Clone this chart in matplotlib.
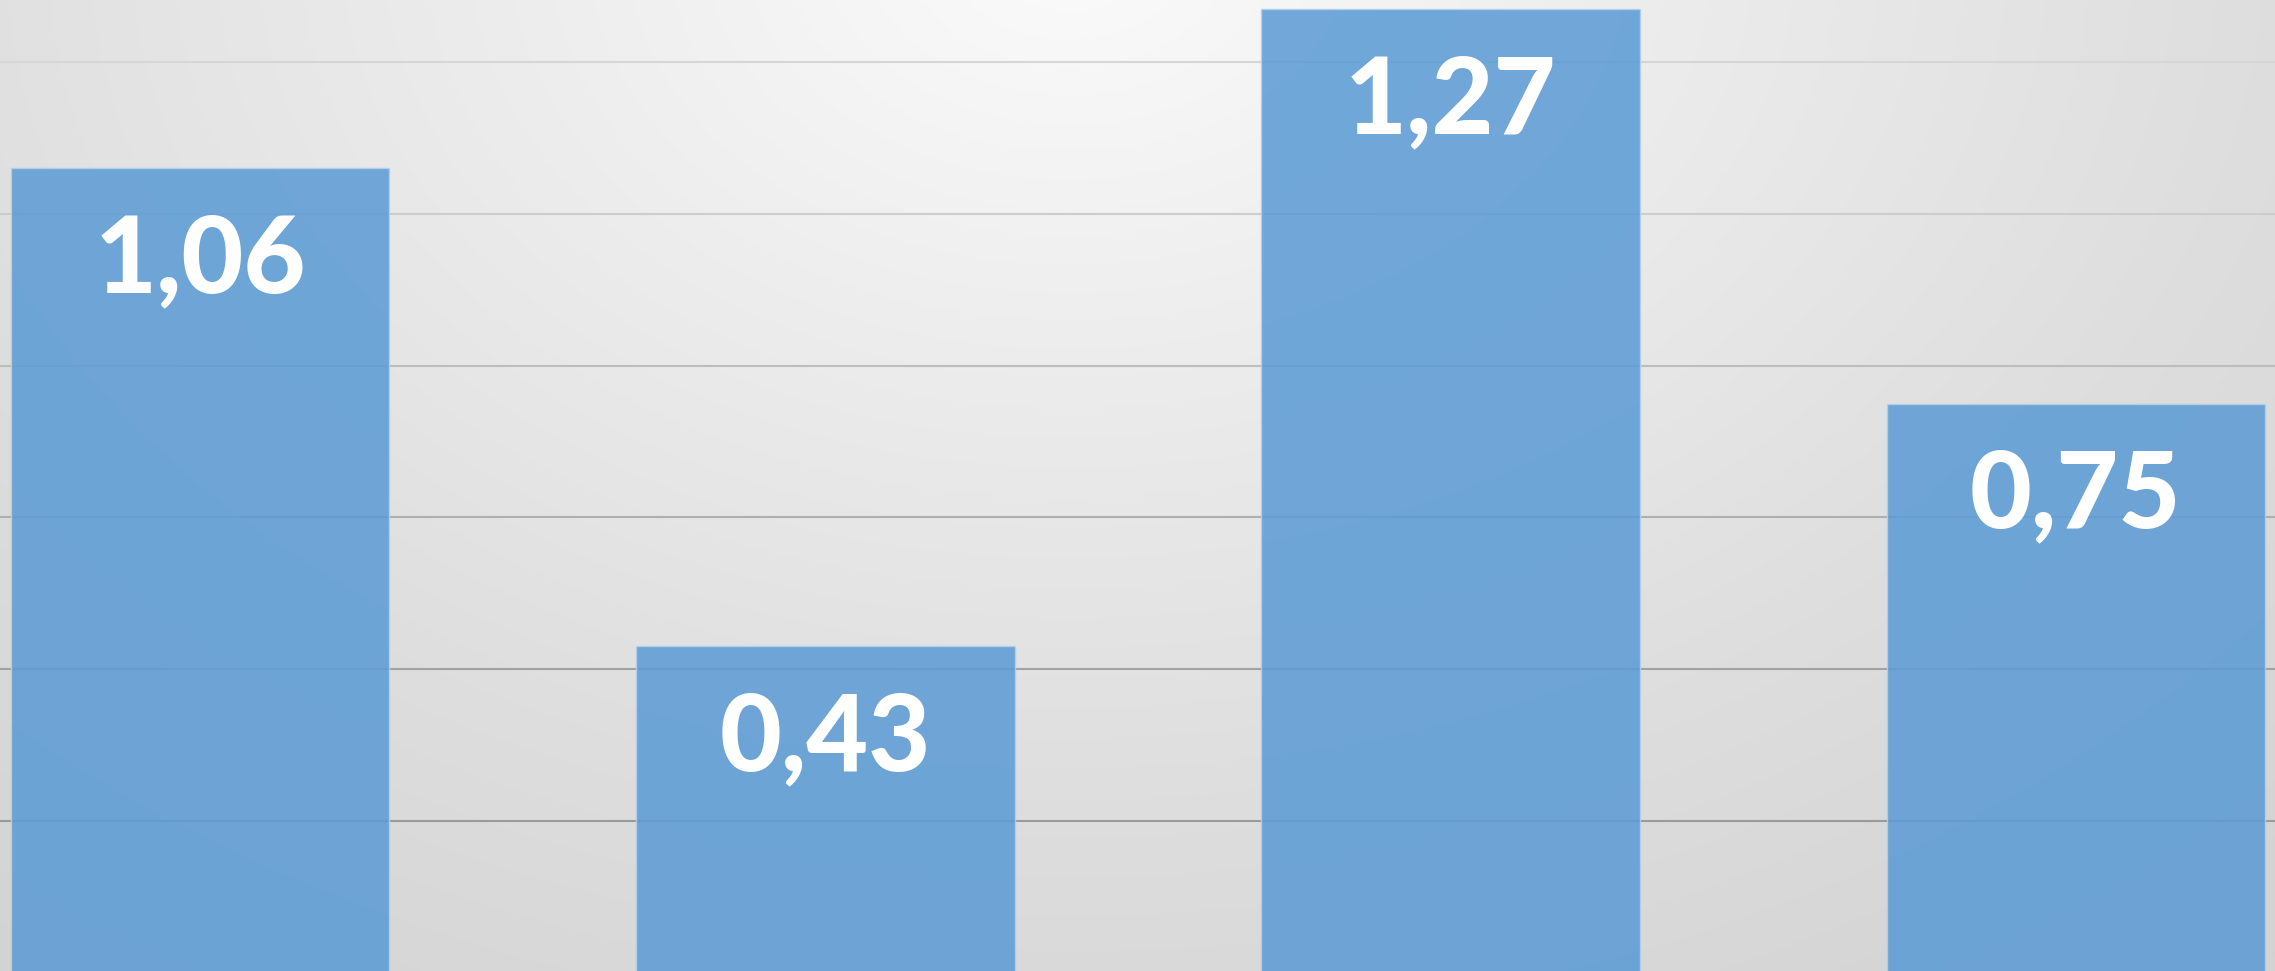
import numpy as np
import matplotlib
matplotlib.use('Agg')
import matplotlib.pyplot as plt
from matplotlib.colors import LinearSegmentedColormap

##### Data #####
categories = ['A', 'B', 'C', 'D']
values = [1.06, 0.43, 1.27, 0.75]
grid_values = [0.2, 0.4, 0.6, 0.8, 1.0, 1.2]


def fmt_comma(v):
    '''
    Formats a number with a decimal comma
    '''
    return '{:.2f}'.format(v).replace('.', ',')


##### Figure #####
fig = plt.figure(figsize=(22.75, 9.71), dpi=100)
ax = fig.add_axes([0, 0, 1, 1])
x_lo, x_hi = -0.3205, 3.319
y_lo, y_hi = 0.002, 1.282
ax.set_xlim(x_lo, x_hi)
ax.set_ylim(y_lo, y_hi)

# radial background gradient, light at top centre
ny, nx = 400, 900
gx, gy = np.meshgrid(np.linspace(0, 1, nx), np.linspace(1, 0, ny))
dist = np.sqrt(((gx - 0.47) / 0.75) ** 2 + ((gy - 1.05) / 1.25) ** 2)
bg_cmap = LinearSegmentedColormap.from_list('bg', ['#fbfbfb', '#ececec', '#dedede', '#d3d3d3'])
ax.imshow(dist, cmap=bg_cmap, vmin=0.0, vmax=1.05, extent=[x_lo, x_hi, y_lo, y_hi],
          aspect='auto', origin='upper', zorder=0, interpolation='bilinear')

# gridlines get darker towards the bottom
grid_colors = ['#9a9a9a', '#a2a2a2', '#afafaf', '#bdbdbd', '#cdcdcd', '#d6d6d6']
for gv, gc in zip(grid_values, grid_colors):
    ax.axhline(gv, color=gc, linewidth=1.5, zorder=1)

xpos = np.arange(len(categories))
ax.bar(xpos, values, width=0.605, color='#5b9bd5', alpha=0.86,
       edgecolor='#b4d0ec', linewidth=1.0, zorder=2)

for x, v in zip(xpos, values):
    ax.text(x, v - 0.1635, fmt_comma(v), ha='center', va='baseline',
            fontsize=77, fontweight='black', family='Lato', color='white', zorder=3)

ax.axis('off')
fig.savefig('out.png', dpi=100)
